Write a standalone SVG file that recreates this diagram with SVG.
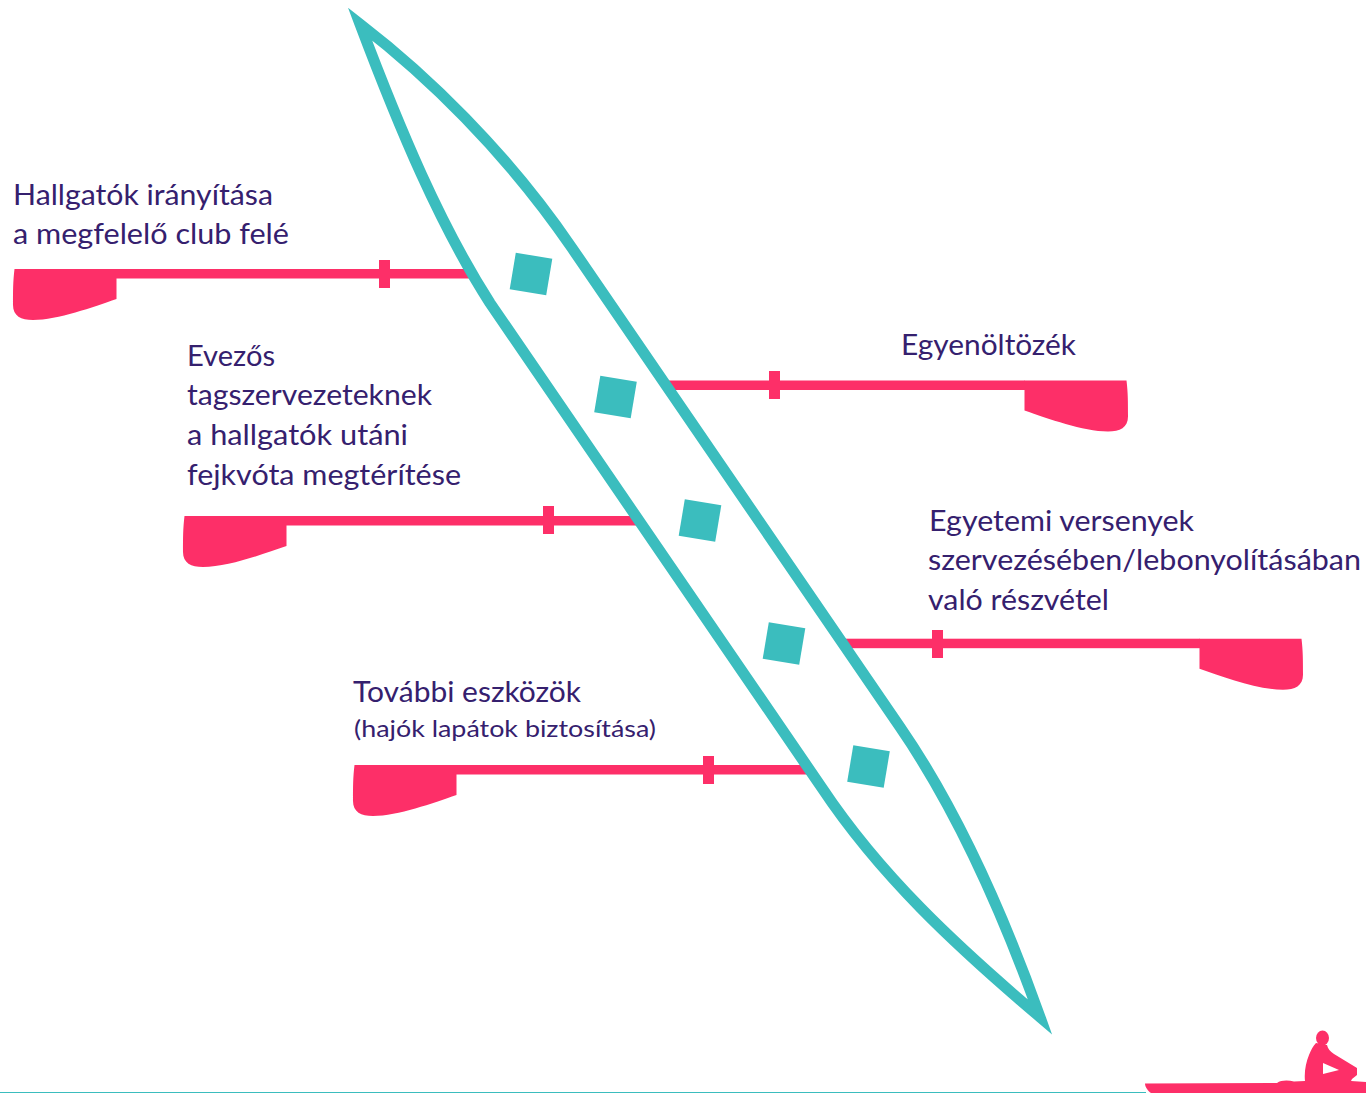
<svg xmlns="http://www.w3.org/2000/svg" width="1366" height="1093" viewBox="0 0 1366 1093">
<style>
.oar{fill:#fd2f68}
.hull{fill:#fff;stroke:#3bbdbe;stroke-width:11;stroke-linejoin:miter;stroke-miterlimit:20}
.seat{fill:#3bbdbe}
text{font-family:"Lato","Noto Sans",sans-serif;font-size:28px;fill:#35206e}
text.s{font-size:24px}
</style>
<defs>
<path id="blade" d="M1.5,0H103.5V30C80,38 45,51 20,51C8,51 0,47 0,36C0,22 0,12 1.5,0Z"/>
</defs>
<rect width="1366" height="1093" fill="#fff"/>
<g id="connectors">
<g id="oar-1" class="oar"><use href="#blade" transform="translate(13,269)"/><rect x="116" y="269" width="359" height="9.5"/><rect x="379" y="260" width="11" height="28"/></g>
<g id="oar-2" class="oar"><use href="#blade" transform="translate(183,516)"/><rect x="286" y="516" width="359" height="9.5"/><rect x="543" y="506" width="11" height="28"/></g>
<g id="oar-3" class="oar"><use href="#blade" transform="translate(353,765)"/><rect x="456" y="765" width="359" height="9.5"/><rect x="703" y="756" width="11" height="28"/></g>
<g id="oar-4" class="oar"><use href="#blade" transform="translate(1128,380.500) scale(-1,1)"/><rect x="665" y="380.500" width="360" height="9.5"/><rect x="769" y="371" width="11" height="28"/></g>
<g id="oar-5" class="oar"><use href="#blade" transform="translate(1303,638.700) scale(-1,1)"/><rect x="840" y="638.700" width="360" height="9.500"/><rect x="932" y="630" width="11" height="28"/></g>
</g>
<g id="boat">
<path class="hull" d="M360,24C425,74 505,150 572,248L900,727C955,807 1000,905 1040,1017C955,945 880,875 822,788L490,303C440,225 400,130 360,24Z"/>
<rect class="seat" x="-18.500" y="-18.500" width="37" height="37" transform="translate(531,274) rotate(9.500)"/>
<rect class="seat" x="-18.500" y="-18.500" width="37" height="37" transform="translate(615.500,397) rotate(9.500)"/>
<rect class="seat" x="-18.500" y="-18.500" width="37" height="37" transform="translate(700,520.500) rotate(9.500)"/>
<rect class="seat" x="-18.500" y="-18.500" width="37" height="37" transform="translate(784,643.500) rotate(9.500)"/>
<rect class="seat" x="-18.500" y="-18.500" width="37" height="37" transform="translate(868.500,766.500) rotate(9.500)"/>
</g>
<g id="label-1">
<text x="13" y="205" textLength="260" lengthAdjust="spacingAndGlyphs">Hallgatók irányítása</text>
<text x="13" y="244" textLength="276" lengthAdjust="spacingAndGlyphs">a megfelelő club felé</text>
</g>
<g id="label-2">
<text x="187" y="366" textLength="88" lengthAdjust="spacingAndGlyphs">Evezős</text>
<text x="187" y="405" textLength="245" lengthAdjust="spacingAndGlyphs">tagszervezeteknek</text>
<text x="187" y="445" textLength="221" lengthAdjust="spacingAndGlyphs">a hallgatók utáni</text>
<text x="187" y="485" textLength="274" lengthAdjust="spacingAndGlyphs">fejkvóta megtérítése</text>
</g>
<g id="label-3">
<text x="353" y="702" textLength="228" lengthAdjust="spacingAndGlyphs">További eszközök</text>
<text class="s" x="354" y="737" textLength="302" lengthAdjust="spacingAndGlyphs">(hajók lapátok biztosítása)</text>
</g>
<g id="label-4">
<text x="901" y="355" textLength="175" lengthAdjust="spacingAndGlyphs">Egyenöltözék</text>
</g>
<g id="label-5">
<text x="929" y="531" textLength="265" lengthAdjust="spacingAndGlyphs">Egyetemi versenyek</text>
<text x="928" y="570" textLength="433" lengthAdjust="spacingAndGlyphs">szervezésében/lebonyolításában</text>
<text x="928" y="610" textLength="181" lengthAdjust="spacingAndGlyphs">való részvétel</text>
</g>
<g id="footer">
<rect x="0" y="1092" width="1146" height="1" class="seat"/>
<ellipse class="oar" cx="1322.500" cy="1038" rx="6.500" ry="7.500"/>
<path class="oar" fill-rule="evenodd" d="M1145,1083.500L1277,1083C1281,1080 1288,1080 1294,1081.500L1305,1081C1304,1072 1306,1062 1309,1055C1311,1050 1313,1046 1316,1043L1327,1045C1328,1049 1330,1051 1334,1054L1357,1068L1357,1075L1352,1079L1351,1081L1366,1082V1093H1151C1148,1091 1145,1087 1145,1083.500ZM1323,1063L1323,1074L1339,1070Z"/>
</g>
</svg>
